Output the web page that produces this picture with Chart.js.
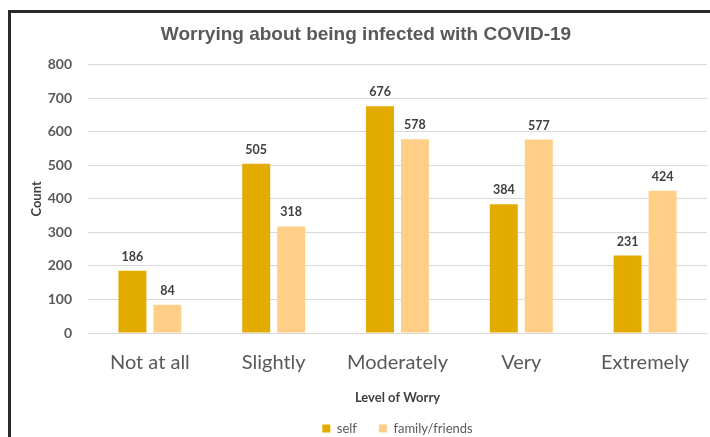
<!DOCTYPE html>
<html lang="en">
<head>
  <meta charset="UTF-8" />
  <title>Worrying about being infected with COVID-19</title>
  <script src="https://cdn.jsdelivr.net/npm/chart.js"></script>
  <style>
    body { margin: 0; background: #fff; width: 710px; height: 437px; overflow: hidden; position: relative; }
    #frame {
      position: absolute;
      left: 8px; top: 10px;
      width: 760px; height: 480px;
      border-left: 3px solid #2a2a2a;
      border-top: 3px solid #2a2a2a;
      pointer-events: none;
    }
    canvas { position: absolute; left: 0; top: 0; }
  </style>
</head>
<body>
  <canvas id="worryChart" width="710" height="437"></canvas>
  <div id="frame"></div>

  <script>
    const levels = ["Not at all", "Slightly", "Moderately", "Very", "Extremely"];
    const selfCounts = [186, 505, 676, 384, 231];
    const familyCounts = [84, 318, 578, 577, 424];
    const yTicks = [0, 100, 200, 300, 400, 500, 600, 700, 800];

    // draws the number above each bar
    const barLabels = {
      id: 'barLabels',
      afterDatasetsDraw(chart) {
        const ctx = chart.ctx;
        ctx.save();
        ctx.font = 'bold 12.5px Lato';
        ctx.fillStyle = '#404040';
        ctx.textAlign = 'center';
        ctx.textBaseline = 'middle';
        chart.data.datasets.forEach((ds, i) => {
          chart.getDatasetMeta(i).data.forEach((bar, j) => {
            ctx.fillText(ds.data[j], bar.x, bar.y - 14);
          });
        });
        ctx.restore();
      }
    };

    const ctx = document.getElementById('worryChart').getContext('2d');
    new Chart(ctx, {
      type: 'bar',
      data: {
        labels: levels,
        datasets: [
          {
            label: 'self',
            data: selfCounts,
            backgroundColor: '#E3AA00',
            categoryPercentage: 0.565,
            barPercentage: 0.8
          },
          {
            label: 'family/friends',
            data: familyCounts,
            backgroundColor: '#FFCF87',
            categoryPercentage: 0.565,
            barPercentage: 0.8
          }
        ]
      },
      options: {
        responsive: false,
        animation: false,
        layout: { padding: { left: 25, right: 3, top: 0, bottom: -8 } },
        plugins: {
          title: {
            display: true,
            text: 'Worrying about being infected with COVID-19',
            color: '#595959',
            font: { family: 'Liberation Sans', size: 19, weight: 'bold' },
            padding: { top: 23, bottom: 19 }
          },
          legend: {
            position: 'bottom',
            fullSize: false,
            labels: {
              boxWidth: 8,
              boxHeight: 8,
              padding: 22,
              color: '#595959',
              font: { family: 'Lato', size: 13 }
            }
          },
          tooltip: { enabled: false }
        },
        scales: {
          x: {
            grid: { display: false, drawTicks: false },
            border: { display: false },
            ticks: {
              color: '#595959',
              font: { family: 'Lato', size: 20 },
              padding: 18
            },
            title: {
              display: true,
              text: 'Level of Worry',
              color: '#404040',
              font: { family: 'Lato', size: 13, weight: 'bold' },
              padding: { top: 0, bottom: -6 }
            },
            afterFit(scale) { scale.height = 67; }
          },
          y: {
            min: 0,
            max: 800,
            afterBuildTicks(scale) { scale.ticks = yTicks.map(v => ({ value: v })); },
            grid: { color: '#D9D9D9', drawTicks: false },
            border: { display: false },
            ticks: {
              color: '#595959',
              font: { family: 'Lato', size: 14, weight: 'bold' },
              padding: 16
            },
            title: {
              display: true,
              text: 'Count',
              color: '#404040',
              font: { family: 'Lato', size: 13, weight: 'bold' },
              padding: { top: 4, bottom: 0 }
            },
            afterFit(scale) { scale.width = 63; }
          }
        }
      },
      plugins: [barLabels]
    });
  </script>
</body>
</html>
